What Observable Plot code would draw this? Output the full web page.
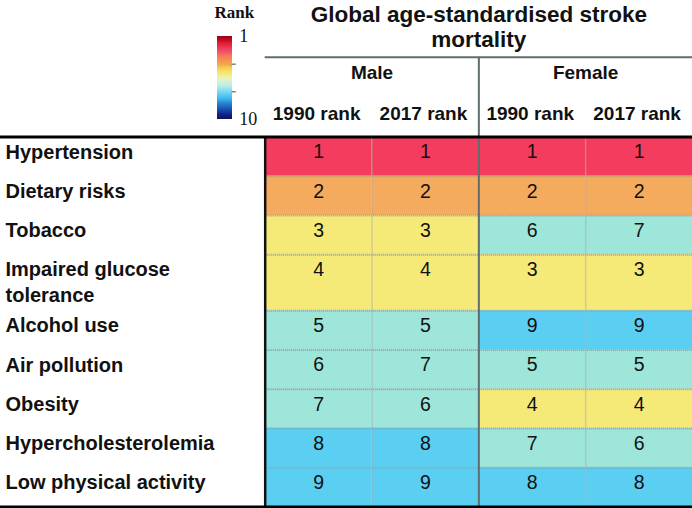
<!DOCTYPE html>
<html><head><meta charset="utf-8">
<script src="https://cdn.jsdelivr.net/npm/d3@7"></script>
<script src="https://cdn.jsdelivr.net/npm/@observablehq/plot@0.6"></script>
<style>
html,body{margin:0;padding:0;background:#fff;}
#wrap{position:relative;width:692px;height:508px;overflow:hidden;}
#main{position:absolute;left:0;top:0;}
#legend{position:absolute;left:200px;top:0;}
</style></head>
<body><div id="wrap"><div id="main"></div><div id="legend"></div></div>
<script>
// ---- data ----
const factors = ["Hypertension", "Dietary risks", "Tobacco", "Impaired glucose\ntolerance", "Alcohol use",
  "Air pollution", "Obesity", "Hypercholesterolemia", "Low physical activity"];
const male1990   = [1, 2, 3, 4, 5, 6, 7, 8, 9];
const male2017   = [1, 2, 3, 4, 5, 7, 6, 8, 9];
const female1990 = [1, 2, 6, 3, 9, 5, 4, 7, 8];
const female2017 = [1, 2, 7, 3, 9, 5, 4, 6, 8];
const sexes = ["Male", "Female"];
const years = ["1990 rank", "2017 rank"];
const title = "Global age-standardised stroke\nmortality";
const legendTitle = "Rank";
const legendLabels = [1, 10];
const legendTicks = [4, 7];

// ---- styles ----
const rankThresholds = [2, 3, 5, 8];
const rankColors = ["#f43c5e", "#f5ab5e", "#f5ea78", "#9ee5da", "#5bcff2"];
const legendStops = ["#9c0014", "#df1a2e", "#f2456a", "#f47c5a", "#f4a647", "#f2e05e", "#f3f3b2",
  "#bff0e6", "#80dcf2", "#3cb8ee", "#2174cc", "#14329a", "#0b1060"];
const SANS = "Liberation Sans, Arial, Helvetica, sans-serif";
const SERIF = "Liberation Serif, Times New Roman, serif";

// ---- derived tables ----
const rows = [];
let acc = 0;
factors.forEach((name, i) => {
  const lines = name.split("\n").length;
  const h = 1 + 0.43 * (lines - 1);
  rows.push({name, i, top: acc, bottom: acc + h});
  acc += h;
});
const total = acc;
const series = [male1990, male2017, female1990, female2017];
const cells = series.flatMap((vals, c) => vals.map((rank, i) => ({col: c, rank, top: rows[i].top, bottom: rows[i].bottom})));
const sexHeads = sexes.map((s, k) => ({s, x: 2 * k + 1}));
const yearHeads = series.map((_, c) => ({t: years[c % 2], x: c + 0.5}));

// header levels in row units (negative = above table)
const Y_TITLE = -2.82, Y_RULE = -2.034, Y_SEX = -1.623, Y_YEAR = -0.586;

const main = Plot.plot({
  width: 692, height: 508,
  marginTop: 0, marginBottom: 0, marginLeft: 0, marginRight: 0,
  x: {domain: [0, 4], range: [264.7, 692], axis: null},
  y: {domain: [0, total], range: [136.5, 506.5], axis: null},
  color: {type: "threshold", domain: rankThresholds, range: rankColors},
  style: {background: "#fff", fontFamily: SANS, color: "#111"},
  marks: [
    Plot.rect(cells, {x1: "col", x2: d => d.col + 1, y1: "top", y2: "bottom", fill: "rank"}),
    Plot.ruleY(rows.slice(1), {y: "top", x1: 0, x2: 4, stroke: "#9a9a9a", strokeWidth: 2, strokeDasharray: "1,1"}),
    Plot.ruleX([1, 3], {y1: 0, y2: total, stroke: "#a8a8a8", strokeWidth: 1.5, strokeDasharray: "1,1"}),
    Plot.ruleX([2], {y1: Y_RULE, y2: total, stroke: "#5f6d6d", strokeWidth: 2}),
    Plot.ruleY([Y_RULE], {x1: 0, x2: 4, stroke: "#5f6d6d", strokeWidth: 2}),
    Plot.ruleX([0], {y1: 0, y2: total, stroke: "#111", strokeWidth: 2.5}),
    Plot.ruleY([0, total], {stroke: "#000", strokeWidth: 3}),
    Plot.text(cells, {x: d => d.col + 0.5, y: "top", text: d => String(d.rank), lineAnchor: "top", dy: 7.5,
      fontSize: 19.5, fill: "#111", fontFamily: SANS}),
    Plot.text(rows, {frameAnchor: "left", y: "top", text: "name", lineAnchor: "top", textAnchor: "start",
      dx: 5, dy: 3.2, fontSize: 20, fontWeight: "bold", lineHeight: 1.3, fill: "#111", fontFamily: SANS}),
    Plot.text([title], {x: 2, y: Y_TITLE, text: d => d, fontSize: 22.5, fontWeight: "bold", lineHeight: 25 / 22.5,
      fill: "#111", fontFamily: SANS}),
    Plot.text(sexHeads, {x: "x", y: Y_SEX, text: "s", fontSize: 19, fontWeight: "bold", fill: "#111", fontFamily: SANS}),
    Plot.text(yearHeads, {x: "x", y: Y_YEAR, text: "t", dx: -2, fontSize: 19, fontWeight: "bold", fill: "#111", fontFamily: SANS})
  ]
});
document.getElementById("main").appendChild(main);

// ---- legend ----
const stopDomain = legendStops.map((_, i) => 1 + 9 * i / (legendStops.length - 1));
const step = 0.1;
const slices = d3.range(1, 10 - 1e-9, step);
const legend = Plot.plot({
  width: 80, height: 130,
  marginTop: 36, marginBottom: 11, marginLeft: 17.3, marginRight: 48.3,
  x: {domain: [0, 1], axis: null},
  y: {domain: [1, 10], reverse: true, axis: null},
  color: {type: "linear", domain: stopDomain, range: legendStops, interpolate: "rgb"},
  style: {background: "transparent", fontFamily: SERIF, overflow: "visible"},
  marks: [
    Plot.rect(slices, {x1: 0, x2: 1, y1: d => d, y2: d => d + step, fill: d => d + step / 2, shapeRendering: "crispEdges"}),
    Plot.ruleY(legendTicks, {x1: 1, x2: 1.28, stroke: "#444", strokeWidth: 1}),
    Plot.text(legendLabels, {x: 1, y: d => d, text: d => String(d), dx: 7, textAnchor: "start", fontSize: 18,
      fill: "#111", fontFamily: SERIF}),
    Plot.text([legendTitle], {x: 1.15, y: -1.6, text: d => d, fontSize: 17, fontWeight: "bold", fill: "#111", fontFamily: SERIF})
  ]
});
document.getElementById("legend").appendChild(legend);
</script>
</body></html>
